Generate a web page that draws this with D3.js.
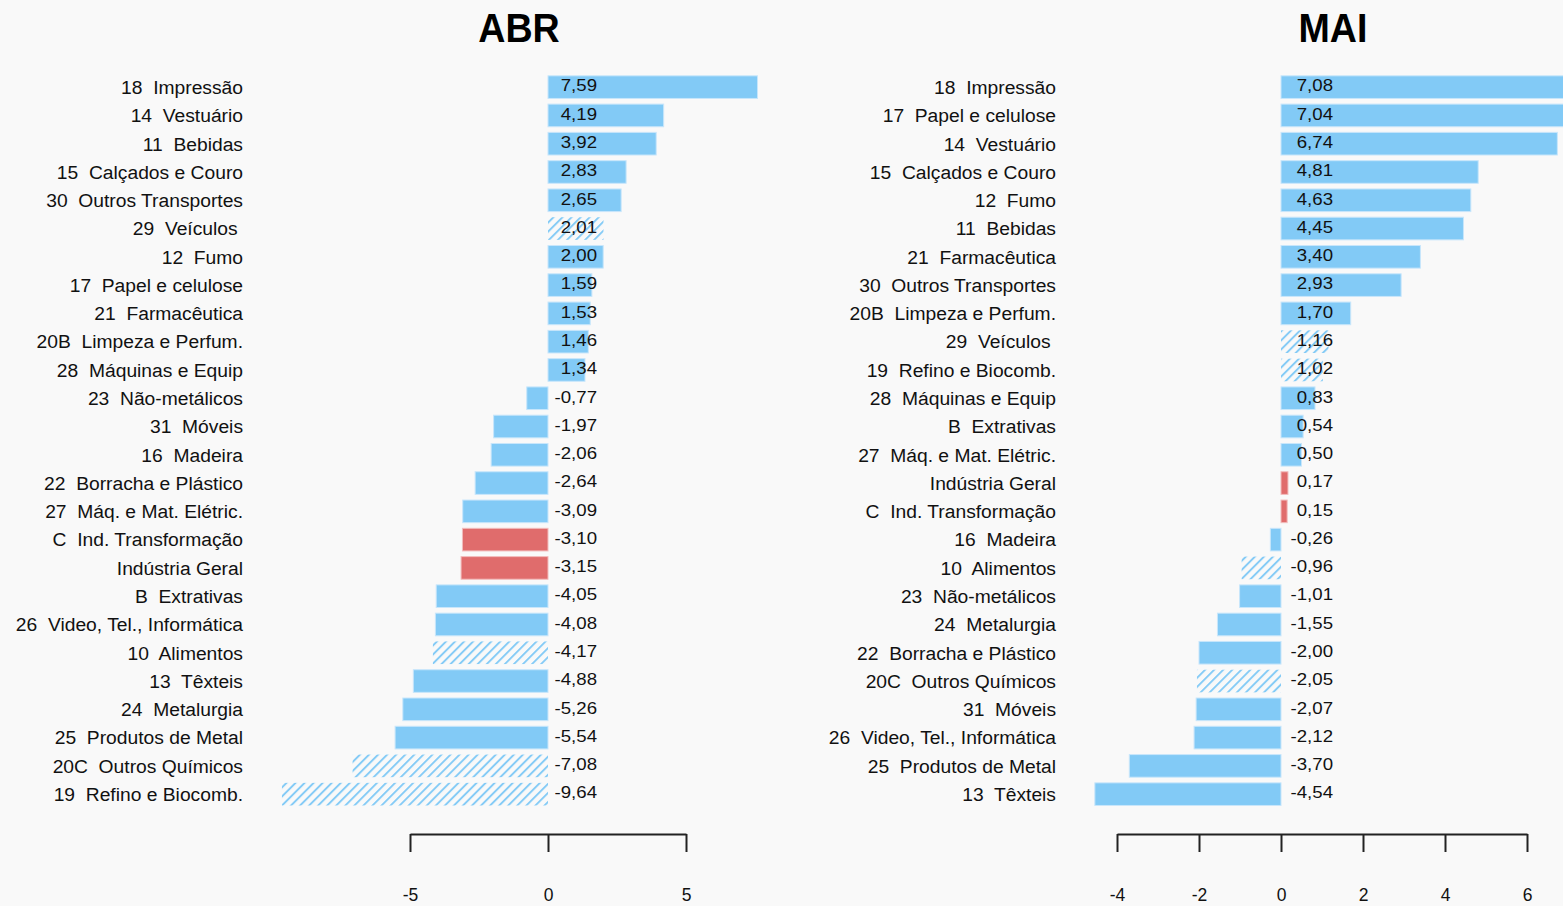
<!DOCTYPE html>
<html>
<head>
<meta charset="utf-8">
<script src="https://cdn.jsdelivr.net/npm/d3@7"></script>
<style>
  html, body { margin: 0; padding: 0; background: #f9f9f9; overflow: hidden; }
  svg { display: block; font-family: "Liberation Sans", Arial, sans-serif; }
  text { white-space: pre; }
</style>
</head>
<body>
<svg id="chart" width="1563" height="906"></svg>
<script>
// ---- Data ----
const abrCategories = ["18  Impressão","14  Vestuário","11  Bebidas","15  Calçados e Couro","30  Outros Transportes","29  Veículos ","12  Fumo","17  Papel e celulose","21  Farmacêutica","20B  Limpeza e Perfum.","28  Máquinas e Equip","23  Não-metálicos","31  Móveis","16  Madeira","22  Borracha e Plástico","27  Máq. e Mat. Elétric.","C  Ind. Transformação","Indústria Geral","B  Extrativas","26  Video, Tel., Informática","10  Alimentos","13  Têxteis","24  Metalurgia","25  Produtos de Metal","20C  Outros Químicos","19  Refino e Biocomb."];
const abrValues = [7.59,4.19,3.92,2.83,2.65,2.01,2.00,1.59,1.53,1.46,1.34,-0.77,-1.97,-2.06,-2.64,-3.09,-3.10,-3.15,-4.05,-4.08,-4.17,-4.88,-5.26,-5.54,-7.08,-9.64];
const abrKinds = ["n","n","n","n","n","h","n","n","n","n","n","n","n","n","n","n","r","r","n","n","h","n","n","n","h","h"];

const maiCategories = ["18  Impressão","17  Papel e celulose","14  Vestuário","15  Calçados e Couro","12  Fumo","11  Bebidas","21  Farmacêutica","30  Outros Transportes","20B  Limpeza e Perfum.","29  Veículos ","19  Refino e Biocomb.","28  Máquinas e Equip","B  Extrativas","27  Máq. e Mat. Elétric.","Indústria Geral","C  Ind. Transformação","16  Madeira","10  Alimentos","23  Não-metálicos","24  Metalurgia","22  Borracha e Plástico","20C  Outros Químicos","31  Móveis","26  Video, Tel., Informática","25  Produtos de Metal","13  Têxteis"];
const maiValues = [7.08,7.04,6.74,4.81,4.63,4.45,3.40,2.93,1.70,1.16,1.02,0.83,0.54,0.50,0.17,0.15,-0.26,-0.96,-1.01,-1.55,-2.00,-2.05,-2.07,-2.12,-3.70,-4.54];
const maiKinds = ["n","n","n","n","n","n","n","n","n","h","h","n","n","n","r","r","n","h","n","n","n","h","n","n","n","n"];

const abrTicks = [-5, 0, 5];
const maiTicks = [-4, -2, 0, 2, 4, 6];
const titles = ["ABR", "MAI"];

// ---- Styles ----
const BLUE = "#82caf6", RED = "#e06c6c";
const svg = d3.select("#chart");

const defs = svg.append("defs");
const pat = defs.append("pattern")
  .attr("id", "hatch").attr("patternUnits", "userSpaceOnUse")
  .attr("width", 6.4).attr("height", 6.4)
  .attr("patternTransform", "rotate(45)");
pat.append("line").attr("x1", 1).attr("y1", 0).attr("x2", 1).attr("y2", 6.4)
  .attr("stroke", BLUE).attr("stroke-width", 1.9);

const fmt = v => v.toFixed(2).replace(".", ",");

function panel(cfg) {
  const y = d3.scaleBand().domain(cfg.categories).range([73, 808.3])
    .paddingInner(0.2).paddingOuter(0.1);
  const x = d3.scaleLinear().domain(cfg.domain).range(cfg.range);
  const g = svg.append("g");
  const rows = cfg.categories.map((c, i) => ({ c, v: cfg.values[i], k: cfg.kinds[i] }));

  g.selectAll("rect.bar").data(rows).join("rect")
    .attr("class", "bar")
    .attr("x", d => x(Math.min(0, d.v)))
    .attr("width", d => Math.abs(x(d.v) - x(0)))
    .attr("y", d => y(d.c))
    .attr("height", y.bandwidth())
    .attr("fill", d => d.k === "h" ? "url(#hatch)" : d.k === "r" ? RED : BLUE)
    .attr("stroke", d => d.k === "h" ? "none" : d.k === "r" ? "#f2bcbc" : "#c8e6fb")
    .attr("stroke-width", 1);

  // category labels
  g.selectAll("text.cat").data(rows).join("text")
    .attr("class", "cat")
    .attr("transform", d => `translate(${cfg.labelX},${y(d.c) + y.bandwidth() / 2 + 6.8}) scale(1.07,1)`)
    .attr("text-anchor", "end")
    .attr("font-size", 18)
    .attr("fill", "#111")
    .text(d => d.c);

  // value labels
  g.selectAll("text.val").data(rows).join("text")
    .attr("class", "val")
    .attr("transform", d => `translate(${x(0) + cfg.valOffset},${y(d.c) + y.bandwidth() / 2 + 4.3}) scale(1.13,1)`)
    .attr("text-anchor", "end")
    .attr("font-size", 16.5)
    .attr("fill", "#111")
    .text(d => fmt(d.v));

  // title
  svg.append("text")
    .attr("transform", `translate(${cfg.titleX},42) scale(0.94,1)`)
    .attr("text-anchor", "middle")
    .attr("font-size", 40).attr("font-weight", "bold")
    .attr("fill", "#000")
    .text(cfg.title);

  // axis
  const ax = svg.append("g").attr("transform", "translate(0,834)")
    .call(d3.axisBottom(x).tickValues(cfg.ticks).tickSize(18).tickSizeOuter(0)
      .tickPadding(37).tickFormat(d3.format("d")));
  ax.select(".domain").attr("stroke", "#222").attr("stroke-width", 2);
  ax.selectAll(".tick line").attr("stroke", "#222").attr("stroke-width", 2);
  ax.selectAll(".tick text").attr("font-size", 17.5).attr("fill", "#111")
    .attr("font-family", "Liberation Sans, Arial, sans-serif")
    .text(d => d < 0 ? "-" + Math.abs(d) : String(d));
}

panel({ categories: abrCategories, values: abrValues, kinds: abrKinds,
  domain: [-5, 5], range: [410, 686], ticks: abrTicks, labelX: 243,
  valOffset: 49, titleX: 519, title: titles[0] });
panel({ categories: maiCategories, values: maiValues, kinds: maiKinds,
  domain: [-4, 6], range: [1117, 1527], ticks: maiTicks, labelX: 1056,
  valOffset: 52, titleX: 1333, title: titles[1] });
</script>
</body>
</html>
